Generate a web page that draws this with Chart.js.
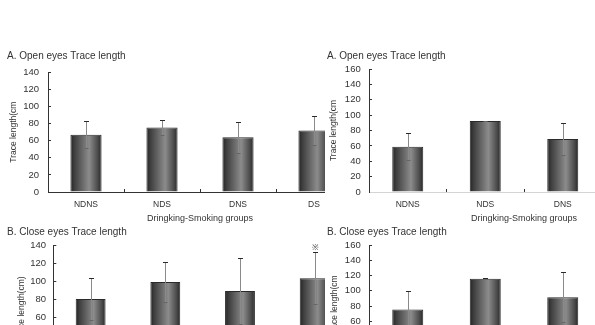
<!DOCTYPE html>
<html>
<head>
<meta charset="utf-8">
<script src="https://cdn.jsdelivr.net/npm/chart.js@4/dist/chart.umd.min.js"></script>
<style>
  html, body { margin: 0; padding: 0; background: #fff; overflow: hidden; width: 595px; height: 325px; }
  .panel { position: absolute; overflow: hidden; }
  canvas { display: block; }
</style>
</head>
<body>
<div class="panel" id="pTL" style="left:0;top:0;width:325px;height:235px;"><canvas id="cTL" width="356" height="232"></canvas></div>
<div class="panel" id="pTR" style="left:325px;top:0;width:270px;height:235px;"><canvas id="cTR" width="360" height="232"></canvas></div>
<div class="panel" id="pBL" style="left:0;top:224px;width:325px;height:101px;"><canvas id="cBL" width="356" height="187"></canvas></div>
<div class="panel" id="pBR" style="left:325px;top:224px;width:270px;height:101px;"><canvas id="cBR" width="360" height="183"></canvas></div>
<script>
// ---- data ----
const groups = ['NDNS', 'NDS', 'DNS', 'DS'];

const openLeftMean  = [67, 75.5, 64, 72];
const openLeftSD    = [15.6, 8.6, 18.3, 16.8];
const openRightMean = [59, 92.4, 69, null];
const openRightSD   = [17.5, 0.4, 21, null];

const closeLeftMean  = [80.5, 99.5, 89.3, 103.5];
const closeLeftSD    = [23, 22.6, 36.8, 29];
const closeLeftMarks = ['', '', '', '※'];
const closeRightMean = [75.5, 115.7, 91.5, null];
const closeRightSD   = [24, 0.4, 33, null];

const openTitle = 'A. Open eyes Trace length';
const closeTitle = 'B. Close eyes Trace length';
const xTitle = 'Dringking-Smoking groups';

// ---- helpers ----
const FONT = "'Liberation Sans', Arial, sans-serif";
const TXT = '#333';

const errorBarPlugin = {
  id: 'errorBars',
  afterDatasetsDraw(chart, args, opts) {
    const meta = chart.getDatasetMeta(0);
    const y = chart.scales.y;
    const ctx = chart.ctx;
    const means = chart.data.datasets[0].data;
    ctx.save();
    meta.data.forEach((bar, i) => {
      const m = means[i], sd = opts.sd[i];
      if (m == null || sd == null) return;
      const x = Math.round(bar.x) + 0.5;
      const yt = Math.round(y.getPixelForValue(m + sd)) + 0.5;
      const yb = Math.round(y.getPixelForValue(m - sd)) + 0.5;
      ctx.lineWidth = 1;
      ctx.strokeStyle = '#8a8a8a';
      ctx.beginPath(); ctx.moveTo(x, yt); ctx.lineTo(x, yb); ctx.stroke();
      ctx.strokeStyle = '#2a2a2a';
      ctx.beginPath(); ctx.moveTo(x - 2.5, yt); ctx.lineTo(x + 2.5, yt); ctx.stroke();
      ctx.strokeStyle = '#666';
      ctx.beginPath(); ctx.moveTo(x - 2, yb); ctx.lineTo(x + 2, yb); ctx.stroke();
      if (opts.marks && opts.marks[i]) {
        ctx.fillStyle = '#444';
        ctx.font = "8px " + FONT;
        ctx.textAlign = 'center';
        ctx.textBaseline = 'middle';
        ctx.fillText(opts.marks[i], x, yt - 5);
      }
    });
    ctx.restore();
  }
};

function barGradient(context, barPct) {
  const chart = context.chart;
  const xs = chart.scales.x;
  if (!xs || !chart.chartArea) return '#555';
  const cx = xs.getPixelForValue(context.dataIndex);
  const w = (xs.width / chart.data.labels.length) * barPct;
  const g = chart.ctx.createLinearGradient(cx - w / 2, 0, cx + w / 2, 0);
  g.addColorStop(0, '#222');
  g.addColorStop(0.12, '#3d3d3d');
  g.addColorStop(0.6, '#8c8c8c');
  g.addColorStop(0.88, '#4a4a4a');
  g.addColorStop(1, '#262626');
  return g;
}

function makeChart(id, cfg) {
  const barPct = cfg.barPct;
  return new Chart(document.getElementById(id), {
    type: 'bar',
    data: {
      labels: groups,
      datasets: [{
        data: cfg.mean,
        backgroundColor: (c) => barGradient(c, barPct),
        borderColor: '#2a2a2a',
        borderWidth: 1,
        borderSkipped: 'bottom',
        categoryPercentage: 1,
        barPercentage: barPct
      }]
    },
    plugins: [errorBarPlugin],
    options: {
      responsive: false,
      animation: false,
      devicePixelRatio: 1,
      layout: { padding: { left: cfg.padLeft, right: cfg.padRight, top: 0, bottom: 0 } },
      plugins: {
        legend: { display: false },
        tooltip: { enabled: false },
        title: {
          display: true, text: cfg.title, align: 'start', color: TXT,
          font: { family: FONT, size: 10, weight: 'normal', lineHeight: 1.2 },
          padding: { top: cfg.titleTop, bottom: cfg.titleBottom }
        },
        errorBars: { sd: cfg.sd, marks: cfg.marks || null }
      },
      scales: {
        x: {
          offset: true,
          afterFit: (s) => { s.height = 40; },
          grid: { offset: true, drawOnChartArea: false, drawTicks: true, tickLength: -3, color: '#333' },
          border: { display: true, color: cfg.xBorder, width: 1 },
          ticks: { color: TXT, font: { family: FONT, size: 8.5 }, padding: 10.5, maxRotation: 0 },
          title: { display: true, text: xTitle, color: TXT, font: { family: FONT, size: 9 }, padding: { top: 0, bottom: 8.3 } }
        },
        y: {
          min: 0, max: cfg.max,
          afterFit: (s) => { s.width = cfg.yWidth; },
          grid: { drawOnChartArea: false, drawTicks: true, tickLength: -3, color: '#333' },
          border: { display: true, color: '#333', width: 1 },
          ticks: { stepSize: 20, color: TXT, font: { family: FONT, size: 9.5 }, padding: cfg.tickPad },
          title: { display: true, text: cfg.yTitle, color: TXT, font: { family: FONT, size: 8.5 }, padding: { top: cfg.yTitlePad, bottom: 0 } }
        }
      }
    }
  });
}

makeChart('cTL', { mean: openLeftMean, sd: openLeftSD, title: openTitle, yTitle: 'Trace length(cm', max: 140,
  barPct: 0.41, padLeft: 7, padRight: 4, yWidth: 41, tickPad: 12, yTitlePad: 1.9,
  titleTop: 50, titleBottom: 10.3, xBorder: '#333' });

makeChart('cTR', { mean: openRightMean, sd: openRightSD, title: openTitle, yTitle: 'Trace length(cm', max: 160,
  barPct: 0.40, padLeft: 2, padRight: 6, yWidth: 42, tickPad: 11.3, yTitlePad: 2,
  titleTop: 50, titleBottom: 7, xBorder: '#d4d4d4' });

makeChart('cBL', { mean: closeLeftMean, sd: closeLeftSD, marks: closeLeftMarks, title: closeTitle, yTitle: 'Trace length(cm)', max: 140,
  barPct: 0.40, padLeft: 7, padRight: 4, yWidth: 46.3, tickPad: 10.3, yTitlePad: 9.9,
  titleTop: 2, titleBottom: 7.7, xBorder: '#333' });

makeChart('cBR', { mean: closeRightMean, sd: closeRightSD, title: closeTitle, yTitle: 'Trace length(cm', max: 160,
  barPct: 0.40, padLeft: 2, padRight: 6, yWidth: 42, tickPad: 11.3, yTitlePad: 3,
  titleTop: 2, titleBottom: 7, xBorder: '#d4d4d4' });
</script>
</body>
</html>
